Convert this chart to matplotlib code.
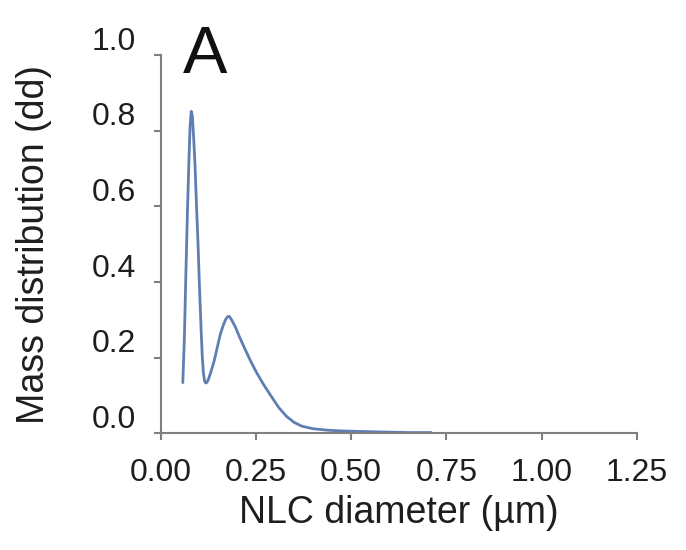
import matplotlib
matplotlib.use('Agg')
import matplotlib.pyplot as plt
import matplotlib.transforms as mtransforms
import numpy as np

plt.rcParams['font.family'] = ['Liberation Sans', 'DejaVu Sans']

# particle size distribution (mass weighted)
diameter_um = [0.058, 0.062, 0.066, 0.070, 0.074, 0.077, 0.080, 0.083, 0.086,
               0.090, 0.094, 0.098, 0.102, 0.106, 0.109, 0.112, 0.115, 0.118,
               0.121, 0.125, 0.132, 0.140, 0.148, 0.156, 0.164, 0.170, 0.175,
               0.180, 0.186, 0.196, 0.208, 0.222, 0.236, 0.252, 0.270, 0.290,
               0.310, 0.330, 0.350, 0.370, 0.400, 0.440, 0.480, 0.520, 0.560,
               0.600, 0.650, 0.710]
mass_dd = [0.134, 0.25, 0.42, 0.58, 0.72, 0.81, 0.851, 0.84, 0.79,
           0.71, 0.60, 0.50, 0.38, 0.275, 0.205, 0.16, 0.139, 0.133,
           0.134, 0.142, 0.163, 0.19, 0.225, 0.26, 0.285, 0.300, 0.308,
           0.309, 0.300, 0.281, 0.252, 0.221, 0.191, 0.160, 0.129, 0.098,
           0.068, 0.045, 0.029, 0.019, 0.012, 0.008, 0.006, 0.005, 0.004,
           0.003, 0.002, 0.002]

x_ticks = [0.00, 0.25, 0.50, 0.75, 1.00, 1.25]
y_ticks = [0.0, 0.2, 0.4, 0.6, 0.8, 1.0]

fig = plt.figure(figsize=(6.86, 5.5), dpi=100)
ax = fig.add_axes([0.2343, 0.2122, 0.6939, 0.6878])

ax.plot(diameter_um, mass_dd, color='#5f7fb3', lw=2.0,
        solid_joinstyle='round', solid_capstyle='round')

ax.set_xlim(0, 1.25)
ax.set_ylim(0, 1.0)
ax.set_xticks(x_ticks)
ax.set_xticklabels([f'{v:.2f}' for v in x_ticks])
ax.set_yticks(y_ticks)
ax.set_yticklabels([f'{v:.1f}' for v in y_ticks])

for side in ['top', 'right']:
    ax.spines[side].set_visible(False)
for side in ['left', 'bottom']:
    ax.spines[side].set_color('#808080')
    ax.spines[side].set_linewidth(1.5)

ax.tick_params(axis='both', direction='out', length=5, width=1.5,
               color='#808080', labelsize=23, labelcolor='#1e1e1e')
ax.tick_params(axis='y', pad=13)
ax.tick_params(axis='x', pad=13)

# y labels sit a bit above their ticks
shift = mtransforms.ScaledTranslation(0, 12 / 72, fig.dpi_scale_trans)
for lbl in ax.get_yticklabels():
    lbl.set_transform(lbl.get_transform() + shift)

ax.set_xlabel('NLC diameter (µm)', fontsize=27, color='#1e1e1e', labelpad=5)
ax.set_ylabel('Mass distribution (dd)', fontsize=27, color='#1e1e1e', labelpad=28)

fig.text(183 / 686, 1 - 73 / 550, 'A', fontsize=48, color='#111111',
         ha='left', va='baseline')

fig.savefig('out.png', dpi=100)
